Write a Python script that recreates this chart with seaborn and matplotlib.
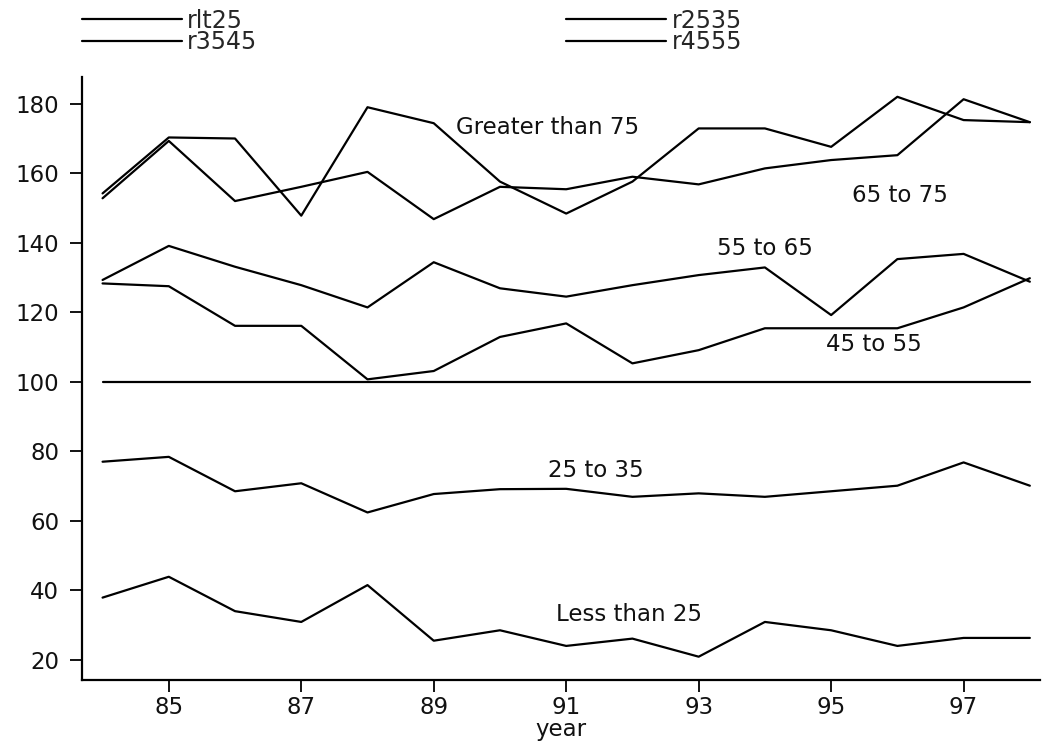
import matplotlib
matplotlib.use("Agg")
import matplotlib.pyplot as plt
import seaborn as sns
import pandas as pd

years = list(range(84, 99))
rlt25 = [37.9, 43.9, 34.0, 30.9, 41.5, 25.5, 28.5, 24.0, 26.1, 20.9, 30.9, 28.5, 24.0, 26.3, 26.3]
r2535 = [77.0, 78.4, 68.5, 70.8, 62.4, 67.7, 69.1, 69.2, 66.9, 67.9, 66.9, 68.5, 70.1, 76.8, 70.1]
r3545 = [100] * 15
r4555 = [128.3, 127.5, 116.1, 116.1, 100.7, 103.1, 112.9, 116.8, 105.3, 109.1, 115.4, 115.4, 115.4, 121.4, 129.8]
r5565 = [129.3, 139.1, 133.1, 127.8, 121.4, 134.4, 126.9, 124.5, 127.8, 130.7, 132.9, 119.2, 135.3, 136.8, 128.8]
r6575 = [152.8, 169.3, 152.0, 156.1, 160.4, 146.8, 156.1, 155.4, 159.0, 156.8, 161.4, 163.8, 165.2, 181.3, 174.7]
rgt75 = [154.2, 170.3, 170.0, 147.8, 179.0, 174.4, 157.6, 148.4, 157.6, 172.9, 172.9, 167.6, 182.0, 175.3, 174.7]

series = {"rlt25": rlt25, "r2535": r2535, "r3545": r3545, "r4555": r4555,
          "r5565": r5565, "r6575": r6575, "rgt75": rgt75}
order = list(series.keys())
legend_names = ["rlt25", "r2535", "r3545", "r4555"]

labels = ["Less than 25", "25 to 35", "45 to 55", "55 to 65", "65 to 75", "Greater than 75"]
label_x = [90.85, 90.73, 94.92, 93.27, 95.31, 89.33]
label_y = [33.1, 74.4, 110.6, 138.4, 153.7, 173.3]

df = pd.DataFrame([(y, name, v) for name, vals in series.items() for y, v in zip(years, vals)],
                  columns=["year", "series", "value"])

sns.set_style("ticks")
plt.rcParams["font.family"] = ["DejaVu Sans"]

fig = plt.figure(figsize=(10.45, 7.46), dpi=100)
ax = fig.add_axes([0.0785, 0.0885, 0.9165, 0.8083])

sns.lineplot(data=df, x="year", y="value", hue="series", hue_order=order,
             palette=["black"] * len(order), linewidth=1.6, legend=False, ax=ax)

for t, x, y in zip(labels, label_x, label_y):
    ax.text(x, y, t, ha="left", va="center", fontsize=16.5, color="#111111")

ax.set_xlim(83.69, 98.15)
ax.set_ylim(14.2, 187.7)
ax.set_xticks(range(85, 98, 2))
ax.set_yticks(range(20, 181, 20))
ax.set_xlabel("year", fontsize=16.5, labelpad=-1, color="#111111")
ax.set_ylabel("")
ax.tick_params(axis="both", labelsize=16.5, length=8.5, width=1.3, color="black",
               labelcolor="#111111")
ax.tick_params(axis="x", pad=3)
ax.tick_params(axis="y", pad=8)
sns.despine(ax=ax)
for s in ["left", "bottom"]:
    ax.spines[s].set_linewidth(1.6)
    ax.spines[s].set_color("black")

handles = [ax.lines[order.index(n)] for n in legend_names]
h_ord = [handles[0], handles[2], handles[1], handles[3]]
l_ord = [legend_names[0], legend_names[2], legend_names[1], legend_names[3]]
fig.legend(h_ord, l_ord, ncol=2, loc="upper left", bbox_to_anchor=(0.0782, 0.9886),
           frameon=False, handlelength=4.24, handletextpad=0.21, columnspacing=13.1,
           labelspacing=-0.1, borderpad=0, borderaxespad=0,
           prop={"family": "DejaVu Sans", "size": 17})

fig.savefig("out.png", dpi=100)
